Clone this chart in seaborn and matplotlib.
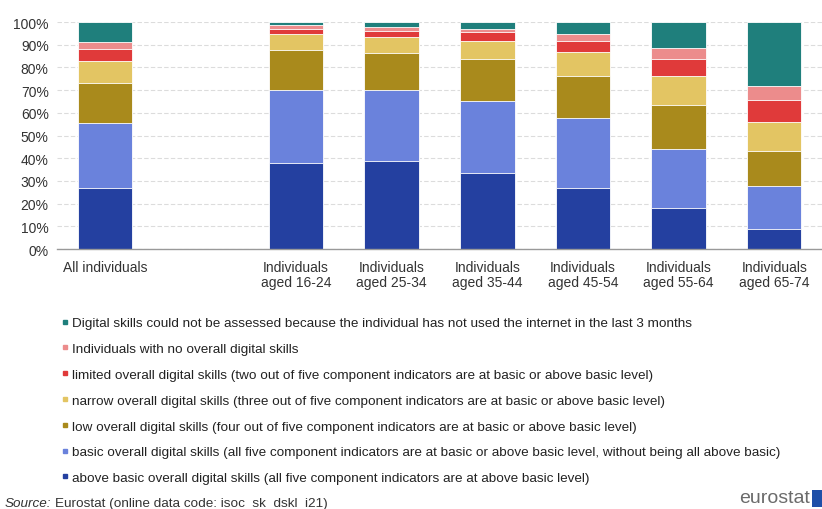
import pandas as pd
import matplotlib
matplotlib.use('Agg')
import matplotlib.pyplot as plt
import seaborn as sns
from matplotlib.lines import Line2D
from matplotlib.patches import Rectangle

sns.set_style('white')
plt.rcParams['font.family'] = ['Liberation Sans', 'DejaVu Sans']

# categories (an empty slot between the total and the age groups)
groups = ['All individuals', '',
          'Individuals\naged 16-24', 'Individuals\naged 25-34', 'Individuals\naged 35-44',
          'Individuals\naged 45-54', 'Individuals\naged 55-64', 'Individuals\naged 65-74']
bar_groups = [g for g in groups if g]

# shares in %, bottom to top
above_basic = [27.0, 37.8, 38.9, 33.7, 27.0, 17.9, 8.8]
basic = [28.3, 32.3, 31.2, 31.6, 30.8, 26.1, 19.1]
low = [17.7, 17.5, 16.3, 18.2, 18.3, 19.4, 15.3]
narrow = [9.7, 7.0, 7.0, 8.3, 10.7, 12.7, 12.8]
limited = [5.6, 2.5, 2.7, 4.0, 4.7, 7.8, 9.6]
no_skills = [3.1, 1.5, 1.9, 1.3, 3.2, 4.7, 6.0]
not_assessed = [8.6, 1.4, 2.0, 2.9, 5.3, 11.4, 28.4]

series = [
    ('above basic overall digital skills (all five component indicators are at above basic level)', above_basic, '#2440a0'),
    ('basic overall digital skills (all five component indicators are at basic or above basic level, without being all above basic)', basic, '#6a82dc'),
    ('low overall digital skills (four out of five component indicators are at basic or above basic level)', low, '#a98a1c'),
    ('narrow overall digital skills (three out of five component indicators are at basic or above basic level)', narrow, '#e3c563'),
    ('limited overall digital skills (two out of five component indicators are at basic or above basic level)', limited, '#e03a3a'),
    ('Individuals with no overall digital skills', no_skills, '#ec8c8c'),
    ('Digital skills could not be assessed because the individual has not used the internet in the last 3 months', not_assessed, '#1f7f7c'),
]

fig = plt.figure(figsize=(8.22, 5.10), dpi=100)
ax = fig.add_axes([57/822, 1 - 250/510, 1 - 57/822, 227/510])

# stacked bars: draw cumulative totals from the top down
running = [0.0] * len(bar_groups)
tops = []
for name, vals, col in series:
    running = [r + v for r, v in zip(running, vals)]
    tops.append((name, list(running), col))

for name, tot, col in reversed(tops):
    df = pd.DataFrame({'group': bar_groups, 'value': tot})
    sns.barplot(data=df, x='group', y='value', order=groups, color=col,
                width=0.57, edgecolor='white', linewidth=0.6, saturation=1, ax=ax)

ax.set_ylim(0, 100)
ax.set_xlim(-0.5, -0.5 + (822 - 57) / 97)
ax.set_yticks(range(0, 101, 10))
ax.set_yticklabels([f'{t}%' for t in range(0, 101, 10)], fontsize=10, color='#333333')
ax.set_xticks(range(len(groups)))
ax.set_xticklabels(groups, fontsize=10, color='#333333', linespacing=1.1)
ax.set_xticks([i + 0.5 for i in range(-1, len(groups))], minor=True)
ax.tick_params(axis='x', which='major', length=0, pad=8)
ax.tick_params(axis='x', which='minor', length=4, color='#999999')
ax.tick_params(axis='y', length=0, pad=6)
ax.set_xlabel('')
ax.set_ylabel('')
ax.yaxis.grid(True, color='#dcdcdc', linestyle=(0, (4, 2)), linewidth=0.8)
ax.set_axisbelow(True)
for s in ['top', 'right', 'left']:
    ax.spines[s].set_visible(False)
ax.spines['bottom'].set_color('#999999')
ax.spines['bottom'].set_linewidth(1.0)

handles = [Line2D([], [], linestyle='none', marker='s', markersize=3.5,
                  markerfacecolor=col, markeredgecolor=col) for _, _, col in reversed(series)]
labels = [name for name, _, _ in reversed(series)]
fig.legend(handles, labels, loc='upper left', bbox_to_anchor=(62/822, 1 - 318/510),
           frameon=False, handlelength=0.45, handletextpad=0.3,
           labelspacing=0.99, borderaxespad=0, borderpad=0, labelcolor='#222222',
           prop={'family': ['Liberation Sans Narrow', 'Liberation Sans'], 'size': 9.7})

src = fig.text(5/822, 1 - 504/510, 'Source:', fontsize=9.7, style='italic', color='#333333', va='center')
fig.canvas.draw()
bb = src.get_window_extent()
fig.text((bb.x1 + 3)/822, 1 - 504/510, 'Eurostat (online data code: isoc_sk_dskl_i21)', fontsize=9.7,
         color='#333333', va='center')
fig.text(810/822, 1 - 499/510, 'eurostat', fontsize=14, color='#6b6b6b', ha='right', va='center')
fig.patches.append(Rectangle((812/822, 1 - 508/510), 12/822, 17/510, transform=fig.transFigure,
                             facecolor='#1f4fa8', edgecolor='none'))

fig.savefig('out.png', dpi=100)
